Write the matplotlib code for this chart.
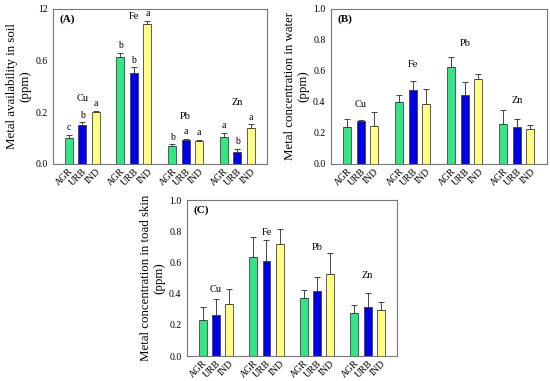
import numpy as np
import matplotlib
matplotlib.use("Agg")
import matplotlib.pyplot as plt

plt.rcParams['font.family'] = ['Liberation Serif', 'DejaVu Serif']

metals = ["Cu", "Fe", "Pb", "Zn"]
sites = ["AGR", "URB", "IND"]
colors = ["#33e585", "#0000e6", "#ffff85"]

# Panel A: soil (rows = metals, cols = sites)
soil_mean = [[0.102, 0.149, 0.200],
             [0.646, 0.508, 1.030],
             [0.070, 0.094, 0.090],
             [0.106, 0.047, 0.140]]
soil_err = [[0.010, 0.012, 0.010],
            [0.040, 0.040, 0.030],
            [0.006, 0.004, 0.003],
            [0.015, 0.012, 0.013]]
soil_letters = [["c", "b", "a"], ["b", "b", "a"], ["b", "a", "a"], ["a", "b", "a"]]
soil_label_y = [0.31, 1.11, 0.184, 0.277]
soil_ticks = [0.0, 0.2, 0.6, 1.2]
soil_ticklabels = ["0.0", "0.2", "0.6", "12"]

# Panel B: water
water_mean = [[0.237, 0.275, 0.247],
              [0.398, 0.477, 0.387],
              [0.628, 0.447, 0.548],
              [0.258, 0.237, 0.226]]
water_err = [[0.053, 0.011, 0.088],
             [0.049, 0.061, 0.097],
             [0.062, 0.082, 0.032],
             [0.090, 0.051, 0.024]]
water_label_y = [0.387, 0.64, 0.78, 0.41]

# Panel C: toad skin
skin_mean = [[0.231, 0.265, 0.333],
             [0.635, 0.611, 0.716],
             [0.370, 0.419, 0.528],
             [0.276, 0.312, 0.295]]
skin_err = [[0.085, 0.098, 0.099],
            [0.126, 0.133, 0.100],
            [0.051, 0.085, 0.130],
            [0.051, 0.090, 0.053]]
skin_label_y = [0.427, 0.79, 0.694, 0.519]

lin_ticks = [0.0, 0.2, 0.4, 0.6, 0.8, 1.0]
lin_ticklabels = ["0.0", "0.2", "0.4", "0.6", "0.8", "1.0"]

fig = plt.figure(figsize=(5.5, 3.81), dpi=100)

spacing = 0.262
width = 0.155
offsets = [-spacing, 0, spacing]


def draw(ax, means, errs, label_y, ylabel, tag, letters=None):
    xt, xl = [], []
    for gi in range(len(metals)):
        for si in range(len(sites)):
            x = gi + offsets[si]
            m = means[gi][si]
            e = errs[gi][si]
            ax.bar(x, m, width=width, color=colors[si], edgecolor="#444444",
                   linewidth=0.6, zorder=2)
            ax.errorbar(x, m, yerr=[[0], [e]], fmt="none", ecolor="#444444",
                        elinewidth=0.7, capsize=2.4, capthick=0.7, zorder=3)
            if letters is not None:
                ax.annotate(letters[gi][si], (x, m + e), xytext=(0, 2),
                            textcoords="offset points", ha="center", va="bottom",
                            fontsize=7)
            xt.append(x)
            xl.append(sites[si])
        ax.text(gi, label_y[gi], metals[gi], ha="center", va="center", fontsize=7.5)
    ax.set_xticks(xt)
    ax.set_xticklabels(xl, rotation=45, ha="right", rotation_mode="anchor",
                       fontsize=7)
    ax.set_xlim(-0.57, 3.58)
    ax.set_ylabel(ylabel, fontsize=9.3, linespacing=1.1, labelpad=3)
    ax.text(0.03, 0.965, tag, transform=ax.transAxes, ha="left", va="top",
            fontsize=8, fontweight="bold")
    ax.tick_params(axis="both", length=0, pad=2)
    ax.tick_params(axis="y", labelsize=7, pad=4)
    for s in ax.spines.values():
        s.set_color("#777777")
        s.set_linewidth(0.8)


# Panel A with segmented scale
axA = fig.add_axes([0.0964, 0.5696, 0.389, 0.4068])
seg_x = np.array(soil_ticks)
seg_y = np.arange(len(soil_ticks), dtype=float)


def fwd(v):
    return np.interp(v, seg_x, seg_y)


def inv(v):
    return np.interp(v, seg_y, seg_x)


axA.set_yscale("function", functions=(fwd, inv))
draw(axA, soil_mean, soil_err, soil_label_y,
     "Metal availability in soil\n(ppm)", "(A)", soil_letters)
axA.set_ylim(0, 1.2)
axA.set_yticks(soil_ticks)
axA.set_yticklabels(soil_ticklabels)
axA.minorticks_off()

axB = fig.add_axes([0.6018, 0.5696, 0.3927, 0.4068])
draw(axB, water_mean, water_err, water_label_y,
     "Metal concentration in water\n(ppm)", "(B)")
axB.set_ylim(0, 1.0)
axB.set_yticks(lin_ticks)
axB.set_yticklabels(lin_ticklabels)

axC = fig.add_axes([0.34, 0.0656, 0.3818, 0.4094])
draw(axC, skin_mean, skin_err, skin_label_y,
     "Metal concentration in toad skin\n(ppm)", "(C)")
axC.set_ylim(0, 1.0)
axC.set_yticks(lin_ticks)
axC.set_yticklabels(lin_ticklabels)

fig.savefig("out.png", dpi=100)
